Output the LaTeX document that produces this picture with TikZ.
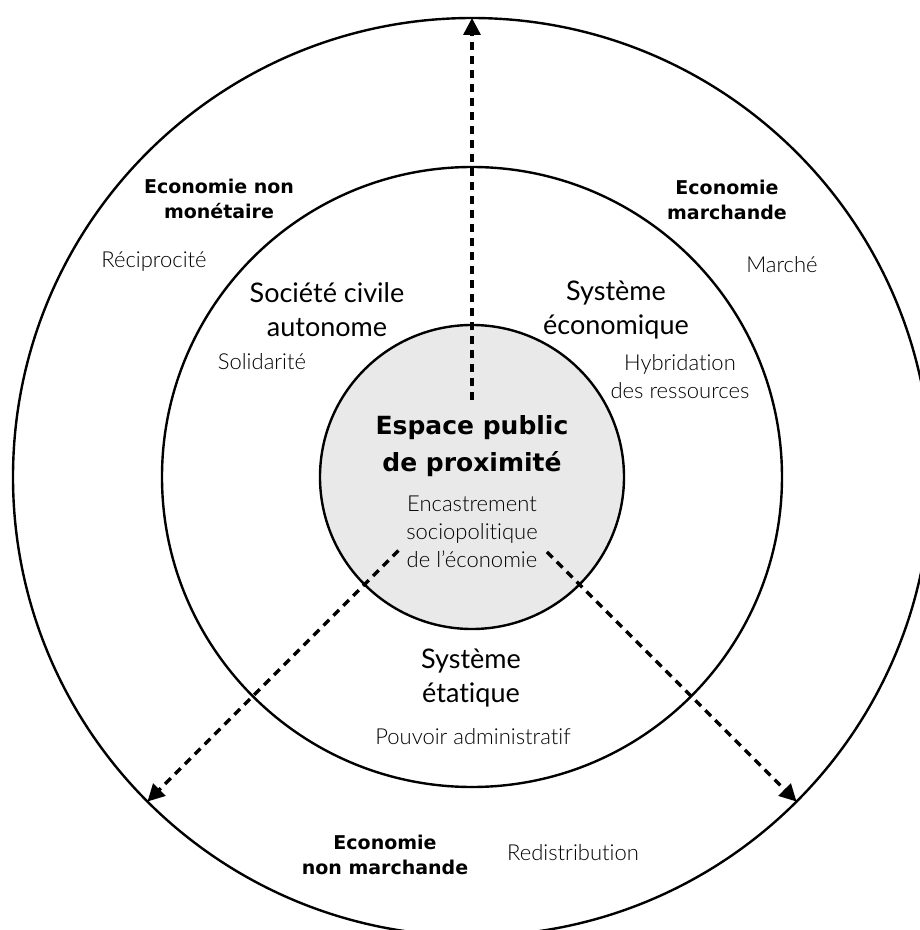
\documentclass[tikz,border=0pt]{standalone}
\usepackage{fontspec}
\setmainfont{Lato}[Ligatures=NoCommon]
\newfontfamily\lightfont{Lato Light}[Ligatures=NoCommon]
\newfontfamily\heavyfont{DejaVu Sans}
\usetikzlibrary{arrows.meta}
\definecolor{corefill}{HTML}{E9E9E9}
\tikzset{
  ring/.style={circle, draw, line width=2.4pt, inner sep=0pt, outer sep=0pt},
  flow/.style={line width=3.4pt, dash pattern=on 8pt off 6pt, -{Triangle[length=17pt,width=17pt]}},
  maintitle/.style={align=center, inner sep=0pt, font=\heavyfont\bfseries\fontsize{25}{37}\selectfont},
  ecotitle/.style={align=center, inner sep=0pt, font=\heavyfont\bfseries\fontsize{19}{25}\selectfont},
  sphtitle/.style={align=center, inner sep=0pt, font=\fontsize{27}{34}\selectfont},
  note/.style={align=center, inner sep=0pt, text=black, font=\lightfont\fontsize{22}{28}\selectfont},
}
\begin{document}
\begin{tikzpicture}[x=1pt,y=1pt]
  \useasboundingbox (-472,-453) rectangle (448,477);
  \clip (-472,-453) rectangle (448,477);

  % rings
  \node[ring, minimum size=918] (outer) at (0,0) {};
  \node[ring, minimum size=620] (sphere) at (0,0) {};
  \node[ring, fill=corefill, minimum size=304] (core) at (0,0) {};

  % arrows
  \coordinate (upfrom) at (90:77);
  \coordinate (leftfrom) at (225:104);
  \coordinate (rightfrom) at (-45:106);
  \draw[flow] (upfrom) -- (outer.90);
  \draw[flow] (leftfrom) -- (outer.225);
  \draw[flow] (rightfrom) -- (outer.-45);

  % outer ring
  \node[ecotitle] (nonmon) at (-253,278) {Economie non\\monétaire};
  \node[note] (recip) at (-318,215) {Réciprocité};
  \node[ecotitle] (march) at (255,277) {Economie\\marchande};
  \node[note] (marche) at (310,212) {Marché};
  \node[ecotitle] (nonmarch) at (-87,-378) {Economie\\non marchande};
  \node[note] (redist) at (101,-376) {Redistribution};

  % middle ring
  \node[sphtitle] (civil) at (-145,167) {Société civile\\autonome};
  \node[note] (solid) at (-210,115) {Solidarité};
  \node[sphtitle] (econ) at (144,167) {Système\\économique};
  \node[note] (hybrid) at (208,100) {Hybridation\\des ressources};
  \node[sphtitle] (etat) at (-1,-201) {Système\\étatique};
  \node[note] (pouvoir) at (1,-260) {Pouvoir administratif};

  % core
  \node[maintitle] (espace) at (0,31) {Espace public\\de proximité};
  \node[note] (encast) at (0,-55) {Encastrement\\sociopolitique\\de l’économie};
\end{tikzpicture}
\end{document}
